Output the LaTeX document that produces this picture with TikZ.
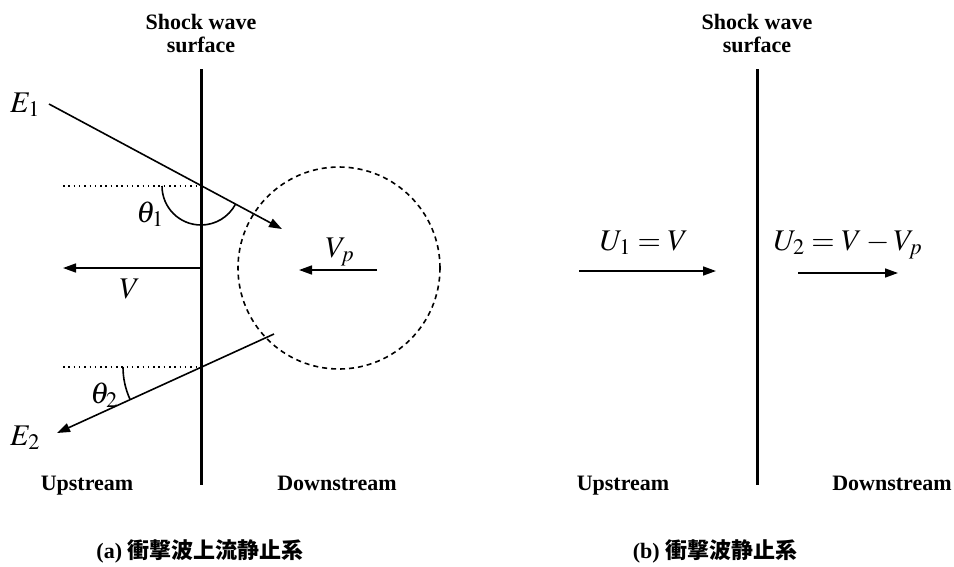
\documentclass[tikz,border=0pt]{standalone}
\usepackage{mathptmx}
\usepackage{fontspec}
\setmainfont{Liberation Serif}
\newfontfamily\cjk{Noto Sans CJK JP}
\usetikzlibrary{arrows.meta}
\begin{document}
\begin{tikzpicture}[x=1pt,y=1pt,
  lbl/.style={font=\fontsize{22}{23}\selectfont\bfseries, align=center, inner sep=0pt},
  blbl/.style={font=\fontsize{22}{23}\selectfont\bfseries, inner sep=0pt, anchor=base},
  mlbl/.style={font=\fontsize{30}{32}\selectfont, inner sep=0pt, anchor=base},
  captxt/.style={font=\fontsize{22}{24}\selectfont\bfseries, inner sep=0pt},
  shock/.style={line width=3pt},
  ray/.style={line width=1.6pt, -{Triangle[length=13pt,width=9pt]}},
  anglearc/.style={line width=1.6pt},
  guide/.style={line width=1.5pt, dash pattern=on 1.5pt off 3.8pt},
  cell/.style={line width=1.6pt, dash pattern=on 5pt off 4pt}
]
\useasboundingbox (0,0) rectangle (954,-566);

% ---------- panel (a) ----------
\coordinate (S1t) at (201,-69);
\coordinate (S1b) at (201,-485);
\draw[shock] (S1t) -- (S1b);
\node[lbl] (sw1) at (201,-33) {Shock wave\\surface};

\coordinate (X1) at (201,-186);
\coordinate (X2) at (201,-367);
\coordinate (D1) at (63,-186);
\coordinate (D2) at (63,-367);
\draw[guide] (D1) -- (X1);
\draw[guide] (D2) -- (X2);

\coordinate (E1s) at (49,-104);
\coordinate (E1t) at (282,-229);
\draw[ray] (E1s) -- (E1t);
\coordinate (E2s) at (274,-334);
\coordinate (E2t) at (57,-433);
\draw[ray] (E2s) -- (E2t);

\draw[anglearc] ([xshift=-39pt]X1) arc[start angle=180, end angle=331.8, radius=39];
\draw[anglearc] ([xshift=-78pt]X2) arc[start angle=180, end angle=204.5, radius=78];

\node[mlbl] (lE1) at (25,-112) {$E_1$};
\node[mlbl] (lth1) at (150,-222) {$\theta_1$};
\node[mlbl] (lth2) at (104,-403) {$\theta_2$};
\node[mlbl] (lE2) at (25,-445) {$E_2$};

\coordinate (Vs) at (201,-268);
\coordinate (Vt) at (63,-268);
\draw[ray] (Vs) -- (Vt);
\node[mlbl] (lV) at (130,-298) {$V$};

\node[draw, cell, circle, minimum size=202pt, inner sep=0pt] (cellc) at (339,-268) {};
\coordinate (Vps) at (377,-270);
\coordinate (Vpt) at (299,-270);
\draw[ray] (Vps) -- (Vpt);
\node[mlbl] (lVp) at (340,-257) {$V_p$};

\node[blbl] (up1) at (87,-490) {Upstream};
\node[blbl] (dn1) at (337,-490) {Downstream};
\node[captxt] (capa) at (200,-551) {(a) {\cjk\bfseries 衝撃波上流静止系}};

% ---------- panel (b) ----------
\coordinate (S2t) at (757,-69);
\coordinate (S2b) at (757,-485);
\draw[shock] (S2t) -- (S2b);
\node[lbl] (sw2) at (757,-33) {Shock wave\\surface};

\coordinate (U1s) at (579,-271);
\coordinate (U1t) at (716,-271);
\draw[ray] (U1s) -- (U1t);
\node[mlbl] (lU1) at (644,-250) {$U_1 = V$};

\coordinate (U2s) at (798,-273);
\coordinate (U2t) at (898,-273);
\draw[ray] (U2s) -- (U2t);
\node[mlbl] (lU2) at (848,-250) {$U_2 = V - V_p$};

\node[blbl] (up2) at (623,-490) {Upstream};
\node[blbl] (dn2) at (892,-490) {Downstream};
\node[captxt] (capb) at (715,-551) {(b) {\cjk\bfseries 衝撃波静止系}};
\end{tikzpicture}
\end{document}
